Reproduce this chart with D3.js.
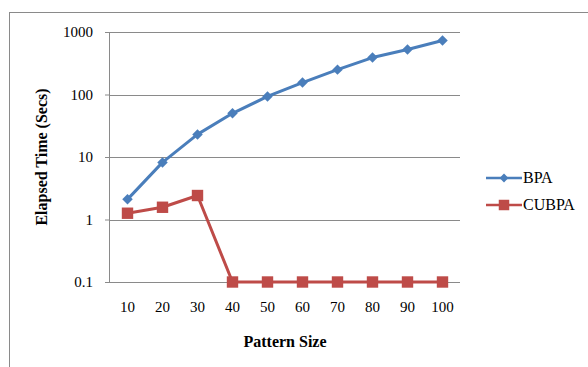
<!DOCTYPE html>
<html>
<head>
<meta charset="utf-8">
<script src="https://cdn.jsdelivr.net/npm/d3@7/dist/d3.min.js"></script>
<style>
  html, body { margin: 0; padding: 0; background: #fff; }
  svg { display: block; }
  svg text { font-family: "Liberation Serif", "Times New Roman", serif !important; fill: #000; }
</style>
</head>
<body>
<svg id="chart" width="588" height="367"></svg>
<script>
// Pattern sizes on the x axis
const patternSizes = [10, 20, 30, 40, 50, 60, 70, 80, 90, 100];
// Elapsed time in seconds for each algorithm
const bpaTimes   = [2.1, 8.2, 23, 50, 93, 155, 250, 390, 525, 730];
const cubpaTimes = [1.26, 1.57, 2.42, 0.1, 0.1, 0.1, 0.1, 0.1, 0.1, 0.1];
// Log axis ticks
const yTicks = [0.1, 1, 10, 100, 1000];
const seriesNames = ["BPA", "CUBPA"];
const seriesColors = ["#4A7EBB", "#BE4B48"];

const svg = d3.select("#chart");

// Outer chart frame
svg.append("rect")
  .attr("x", 9.5).attr("y", 12.5)
  .attr("width", 600).attr("height", 400)
  .attr("fill", "none").attr("stroke", "#8a8a8a").attr("stroke-width", 1);

const plot = { left: 110, right: 460, top: 32, bottom: 282 };

const x = d3.scaleBand()
  .domain(patternSizes)
  .range([plot.left, plot.right]);

const y = d3.scaleLog()
  .domain([0.1, 1000])
  .range([plot.bottom, plot.top]);

// y axis with tick labels
const yAxis = d3.axisLeft(y)
  .tickValues(yTicks)
  .tickFormat(d => d >= 1 ? d3.format("d")(d) : String(d))
  .tickSize(5)
  .tickPadding(12);

const gy = svg.append("g")
  .attr("transform", `translate(${plot.left},0)`)
  .call(yAxis);
gy.select(".domain").attr("stroke", "#8a8a8a").attr("d", `M-0.5,${plot.top}V${plot.bottom}`);
gy.selectAll(".tick line").attr("stroke", "#8a8a8a");
gy.selectAll(".tick text").style("font-size", "15px");

// Horizontal gridlines
svg.append("g")
  .selectAll("line")
  .data(yTicks)
  .join("line")
  .attr("x1", plot.left).attr("x2", plot.right)
  .attr("y1", d => Math.round(y(d)) + 0.5)
  .attr("y2", d => Math.round(y(d)) + 0.5)
  .attr("stroke", "#8a8a8a").attr("stroke-width", 1);

// x axis labels
const xAxis = d3.axisBottom(x).tickSize(0).tickPadding(19);
const gx = svg.append("g")
  .attr("transform", `translate(0,${plot.bottom})`)
  .call(xAxis);
gx.select(".domain").remove();
gx.selectAll(".tick text").style("font-size", "15px");

// Axis titles
svg.append("text")
  .attr("x", 285)
  .attr("y", 347)
  .attr("text-anchor", "middle")
  .style("font-size", "16px")
  .attr("font-weight", "bold")
  .text("Pattern Size");

svg.append("text")
  .attr("transform", "translate(47,157) rotate(-90)")
  .attr("text-anchor", "middle")
  .style("font-size", "16px")
  .attr("font-weight", "bold")
  .text("Elapsed Time (Secs)");

const cx = d => x(d) + x.bandwidth() / 2;
const line = d3.line()
  .x(d => cx(d.size))
  .y(d => y(d.value));

const series = [bpaTimes, cubpaTimes].map((vals, i) => ({
  name: seriesNames[i],
  color: seriesColors[i],
  points: vals.map((v, j) => ({ size: patternSizes[j], value: v }))
}));

const diamond = d3.symbol().type(d3.symbolDiamond2).size(70);
const square = d3.symbol().type(d3.symbolSquare).size(130);

// Draw CUBPA first so BPA sits on top
[series[1], series[0]].forEach(s => {
  svg.append("path")
    .datum(s.points)
    .attr("d", line)
    .attr("fill", "none")
    .attr("stroke", s.color)
    .attr("stroke-width", 3)
    .attr("stroke-linejoin", "round");

  svg.append("g")
    .selectAll("path")
    .data(s.points)
    .join("path")
    .attr("transform", d => `translate(${cx(d.size)},${y(d.value)})`)
    .attr("d", s.name === "BPA" ? diamond : square)
    .attr("fill", s.color);
});

// Legend
const legend = svg.append("g");
series.forEach((s, i) => {
  const ly = 178 + i * 27;
  legend.append("line")
    .attr("x1", 486).attr("x2", 522)
    .attr("y1", ly).attr("y2", ly)
    .attr("stroke", s.color).attr("stroke-width", 2.5);
  legend.append("path")
    .attr("transform", `translate(504,${ly})`)
    .attr("d", s.name === "BPA" ? d3.symbol().type(d3.symbolDiamond2).size(50)() : d3.symbol().type(d3.symbolSquare).size(110)())
    .attr("fill", s.color);
  legend.append("text")
    .attr("x", 523)
    .attr("y", ly + 5)
    .style("font-size", "16px")
    .text(s.name);
});
</script>
</body>
</html>
